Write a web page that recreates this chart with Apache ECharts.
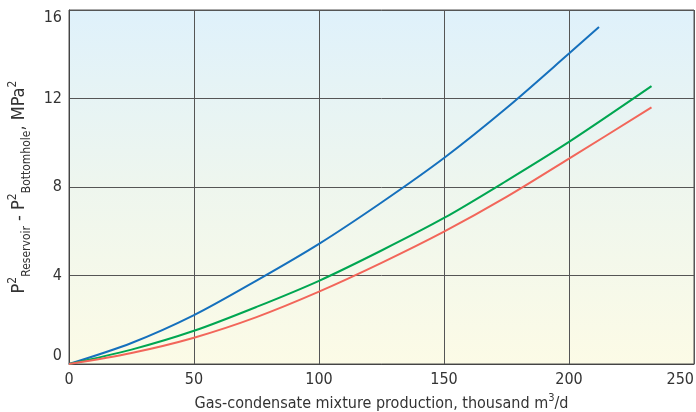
<!DOCTYPE html>
<html>
<head>
<meta charset="utf-8">
<script src="https://cdn.jsdelivr.net/npm/echarts@6/dist/echarts.min.js"></script>
<style>
  html, body { margin: 0; padding: 0; background: #fff; }
  #chart { width: 696px; height: 412px; }
</style>
</head>
<body>
<div id="chart"></div>
<script>
// values (production in thousand m3/d, pressure diff in MPa^2)
const blueX = [0, 25, 50, 75, 100, 125, 150, 175, 200, 212];
const blueY = [0, 0.95, 2.21, 3.77, 5.43, 7.30, 9.31, 11.57, 14.03, 15.23];
const greenX = [0, 25, 50, 75, 100, 125, 150, 175, 200, 233];
const greenY = [0, 0.65, 1.50, 2.58, 3.76, 5.13, 6.60, 8.28, 10.04, 12.56];
const redX = [0, 25, 50, 75, 100, 125, 150, 175, 200, 233];
const redY = [0, 0.5, 1.19, 2.12, 3.27, 4.57, 5.98, 7.55, 9.28, 11.6];

const FONT = '"Liberation Sans Narrow", "DejaVu Sans Condensed", "Roboto", sans-serif';

function pairs(xs, ys) {
  return xs.map((x, i) => [x, ys[i]]);
}

function makeLine(name, xs, ys, color) {
  return {
    name: name,
    type: 'line',
    smooth: 0.3,
    showSymbol: false,
    lineStyle: { color: color, width: 2 },
    data: pairs(xs, ys),
  };
}

const myChart = echarts.init(document.getElementById('chart'));

const txt = { fontFamily: FONT, color: '#333' };

const options = {
  animation: false,
  grid: {
    left: 69, right: 2, top: 10, bottom: 48,
    outerBoundsMode: 'none',
    containLabel: false,
    show: true,
    borderColor: '#555',
    borderWidth: 1,
    backgroundColor: new echarts.graphic.LinearGradient(0, 0, 0, 1, [
      { offset: 0, color: '#dff1fb' },
      { offset: 0.5, color: '#eef6ee' },
      { offset: 1, color: '#fcfbe6' },
    ]),
  },
  xAxis: {
    type: 'value',
    min: 0, max: 250, interval: 50,
    axisLine: { show: true, lineStyle: { color: '#444', width: 1 } },
    axisTick: { show: false },
    splitLine: { show: true, lineStyle: { color: '#555', width: 1 } },
    axisLabel: {
      color: '#333', fontFamily: FONT, fontSize: 16, margin: 8,
      alignMaxLabel: 'right',
    },
    name: '{m|Gas-condensate mixture production, thousand m}{sup|3}{m|/d}',
    nameLocation: 'middle',
    nameGap: 27,
    nameTextStyle: {
      color: '#333', fontFamily: FONT, fontSize: 16,
      rich: {
        m: { ...txt, fontSize: 16, lineHeight: 22, verticalAlign: 'middle' },
        sup: { ...txt, fontSize: 11, lineHeight: 22, verticalAlign: 'top' },
      },
    },
  },
  yAxis: {
    type: 'value',
    min: 0, max: 16, interval: 4,
    axisLine: { show: true, lineStyle: { color: '#444', width: 1 } },
    axisTick: { show: false },
    splitLine: { show: true, lineStyle: { color: '#555', width: 1 } },
    axisLabel: {
      color: '#333', fontFamily: FONT, fontSize: 16, margin: 7,
      verticalAlignMaxLabel: 'top',
      verticalAlignMinLabel: 'bottom',
    },
    name: '{m|P}{sup|2}{sub|Reservoir}{m| - P}{sup|2}{sub|Bottomhole}{m|, MPa}{sup|2}',
    nameLocation: 'middle',
    nameGap: 36,
    nameRotate: 90,
    nameTextStyle: {
      color: '#333', fontFamily: FONT, fontSize: 18,
      rich: {
        m: { ...txt, fontSize: 18, lineHeight: 26, verticalAlign: 'middle' },
        sup: { ...txt, fontSize: 12, lineHeight: 26, verticalAlign: 'top' },
        sub: { ...txt, fontSize: 12, lineHeight: 26, verticalAlign: 'bottom' },
      },
    },
  },
  series: [
    makeLine('blue', blueX, blueY, '#1570bd'),
    makeLine('green', greenX, greenY, '#00a651'),
    makeLine('red', redX, redY, '#f2665a'),
  ],
};

myChart.setOption(options);
</script>
</body>
</html>
